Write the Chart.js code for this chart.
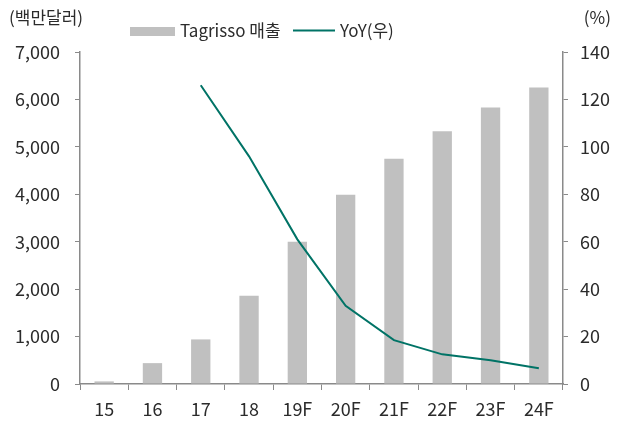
<!DOCTYPE html>
<html>
<head>
<meta charset="utf-8">
<script src="https://cdn.jsdelivr.net/npm/chart.js@4"></script>
<style>
    html, body { margin: 0; padding: 0; background: #fff; }
    #wrap { width: 628px; height: 423px; }
</style>
</head>
<body>
<div id="wrap"><canvas id="salesChart" width="628" height="423"></canvas></div>
<script>
// chart data
const categories = ['15', '16', '17', '18', '19F', '20F', '21F', '22F', '23F', '24F'];
const salesValues = [55, 440, 940, 1860, 3000, 3990, 4750, 5330, 5830, 6250];
const yoyValues = [null, null, 126, 96, 61, 33, 18.5, 12.5, 10, 6.6];
const seriesNames = ['Tagrisso 매출', 'YoY(우)'];
const leftUnit = '(백만달러)';
const rightUnit = '(%)';

const fontFamily = '"Noto Sans CJK KR", "Noto Sans", sans-serif';
const textColor = '#2b2b2b';
const axisColor = '#8a8a8a';
const barColor = '#c0c0c0';
const lineColor = '#007366';

// draws unit labels and the legend above the plot
const headerPlugin = {
    id: 'header',
    afterDraw(chart) {
        const ctx = chart.ctx;
        ctx.save();
        ctx.font = '17px ' + fontFamily;
        ctx.fillStyle = textColor;
        ctx.textBaseline = 'middle';
        ctx.textAlign = 'left';
        ctx.fillText(leftUnit, 9, 18);
        ctx.textAlign = 'right';
        ctx.fillText(rightUnit, 611, 18);

        // legend
        ctx.textAlign = 'left';
        ctx.fillStyle = barColor;
        ctx.fillRect(130, 27, 45, 9);
        ctx.fillStyle = textColor;
        ctx.fillText(seriesNames[0], 180, 31);

        ctx.strokeStyle = lineColor;
        ctx.lineWidth = 2;
        ctx.beginPath();
        ctx.moveTo(293, 30.5);
        ctx.lineTo(335, 30.5);
        ctx.stroke();
        ctx.fillText(seriesNames[1], 340, 31);
        ctx.restore();
    }
};

const ctx = document.getElementById('salesChart').getContext('2d');
new Chart(ctx, {
    type: 'bar',
    data: {
        labels: categories,
        datasets: [{
            type: 'line',
            label: seriesNames[1],
            data: yoyValues,
            yAxisID: 'y1',
            borderColor: lineColor,
            borderWidth: 2,
            pointRadius: 0,
            tension: 0,
            fill: false
        }, {
            type: 'bar',
            label: seriesNames[0],
            data: salesValues,
            yAxisID: 'y',
            backgroundColor: barColor,
            barPercentage: 0.4,
            categoryPercentage: 1.0
        }]
    },
    options: {
        responsive: false,
        animation: false,
        layout: {
            padding: { top: 52, left: 0, right: 0, bottom: 0 }
        },
        plugins: {
            legend: { display: false },
            tooltip: { enabled: false }
        },
        scales: {
            x: {
                offset: true,
                grid: {
                    offset: true,
                    drawOnChartArea: false,
                    drawTicks: true,
                    tickLength: 6,
                    color: axisColor
                },
                border: { display: true, color: axisColor, width: 1.5 },
                ticks: {
                    color: textColor,
                    font: { family: fontFamily, size: 18 },
                    padding: 8,
                    maxRotation: 0
                },
                afterFit: function (scale) { scale.height = 39; }
            },
            y: {
                position: 'left',
                min: 0,
                max: 7000,
                grid: {
                    drawOnChartArea: false,
                    drawTicks: true,
                    tickLength: 5,
                    color: axisColor
                },
                border: { display: true, color: axisColor, width: 1.5 },
                ticks: {
                    stepSize: 1000,
                    color: textColor,
                    font: { family: fontFamily, size: 18 },
                    padding: 15,
                    callback: function (value) { return value.toLocaleString('en-US'); }
                },
                afterFit: function (scale) { scale.width = 80; }
            },
            y1: {
                position: 'right',
                min: 0,
                max: 140,
                grid: {
                    drawOnChartArea: false,
                    drawTicks: true,
                    tickLength: 5,
                    color: axisColor
                },
                border: { display: true, color: axisColor, width: 1.5 },
                ticks: {
                    stepSize: 20,
                    color: textColor,
                    font: { family: fontFamily, size: 18 },
                    padding: 12
                },
                afterFit: function (scale) { scale.width = 65; }
            }
        }
    },
    plugins: [headerPlugin]
});
</script>
</body>
</html>
